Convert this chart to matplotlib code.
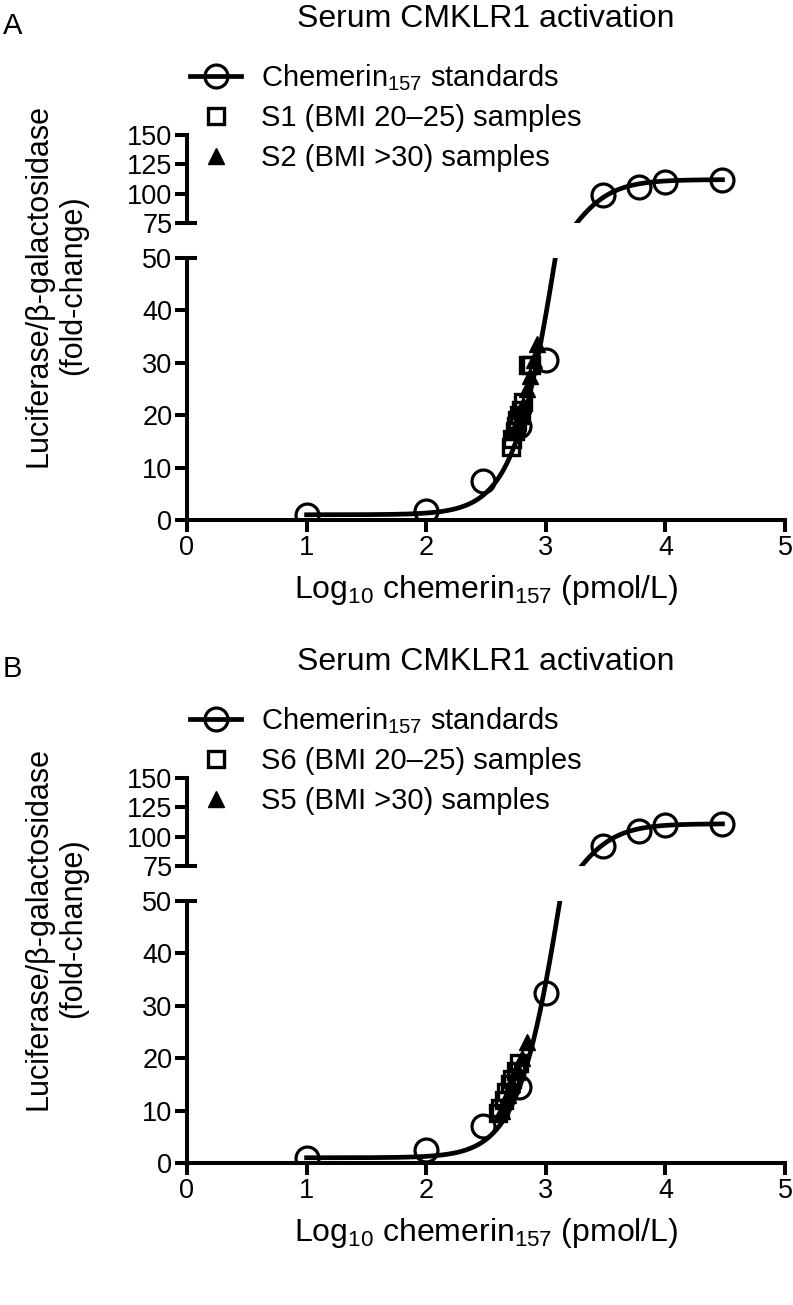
import numpy as np
import matplotlib.pyplot as plt
from matplotlib.lines import Line2D

plt.rcParams['font.family'] = ['Liberation Sans', 'DejaVu Sans']
plt.rcParams['mathtext.default'] = 'regular'

# standards: log10 chemerin157 (pmol/L) vs fold-change
std_x = [1.0, 2.0, 2.477, 2.778, 3.0, 3.477, 3.778, 4.0, 4.477]
std_a = [1.0, 1.8, 7.5, 18.0, 30.5, 98.9, 105.5, 110.0, 111.8]
std_b = [1.0, 2.5, 7.0, 14.5, 32.5, 92.0, 105.0, 110.0, 111.0]

# fitted sigmoid (bottom, top, logEC50, hill)
fit_a = (1.0, 112.0, 3.125, 2.25)
fit_b = (1.0, 111.0, 3.16, 2.25)

# panel A samples
s1_x = [2.71, 2.72, 2.74, 2.75, 2.76, 2.78, 2.79, 2.81, 2.85, 2.88]
s1_y = [14.0, 15.5, 17.0, 18.0, 19.0, 20.0, 21.0, 22.5, 29.5, 29.5]
s2_x = [2.75, 2.77, 2.79, 2.81, 2.84, 2.87, 2.90, 2.93]
s2_y = [17.0, 18.5, 20.0, 22.0, 25.0, 27.5, 30.5, 33.5]

# panel B samples
s6_x = [2.60, 2.62, 2.65, 2.67, 2.70, 2.72, 2.75, 2.78]
s6_y = [9.5, 10.5, 12.0, 13.5, 15.0, 16.0, 17.5, 19.0]
s5_x = [2.63, 2.68, 2.72, 2.76, 2.80, 2.84]
s5_y = [10.0, 13.0, 15.0, 18.0, 20.0, 23.0]

W, H = 793, 1305
L, R = 187, 785


def box(l, t, r, b):
    return [l / W, 1 - b / H, (r - l) / W, (b - t) / H]


def panel(off, letter, sx, sy, tx, ty, std_y, fit, lab_sq, lab_tri):
    lw = 2.9
    ax_lo = fig.add_axes(box(L, 258 + off, R, 520 + off))
    ax_hi = fig.add_axes(box(L, 135 + off, R, 223 + off), sharex=ax_lo)

    bot, top, c, h = fit
    xf = np.linspace(std_x[0], std_x[-1], 400)
    yf = bot + (top - bot) / (1 + 10 ** ((c - xf) * h))

    for ax in (ax_lo, ax_hi):
        ax.plot(xf, yf, color='black', lw=3.4, zorder=2)
        ax.plot(std_x, std_y, 'o', ms=16.5, mfc='none', mec='black', mew=2.3, zorder=3)
        ax.plot(sx, sy, 's', ms=12, mfc='none', mec='black', mew=2.4, zorder=4)
        ax.plot(tx, ty, '^', ms=11, color='black', zorder=4)
        for sp in ('top', 'right'):
            ax.spines[sp].set_visible(False)
        ax.spines['left'].set_linewidth(lw)
        ax.spines['bottom'].set_linewidth(lw)
        ax.tick_params(width=lw, length=8.6, labelsize=19.5, direction='out', pad=2)

    ax_lo.set_xlim(0, 5)
    ax_lo.set_ylim(0, 50)
    ax_lo.set_xticks([0, 1, 2, 3, 4, 5])
    ax_lo.set_yticks([0, 10, 20, 30, 40, 50])
    ax_hi.set_ylim(75, 150)
    ax_hi.set_yticks([75, 100, 125, 150])
    ax_hi.spines['bottom'].set_visible(False)
    ax_hi.tick_params(axis='x', bottom=False, labelbottom=False)

    # break caps on the y axis
    cap = 10 / (R - L)
    ax_hi.plot([0, cap], [0, 0], transform=ax_hi.transAxes, color='black',
               lw=lw, clip_on=False, solid_capstyle='butt')
    ax_lo.plot([0, cap], [1, 1], transform=ax_lo.transAxes, color='black',
               lw=lw, clip_on=False, solid_capstyle='butt')

    fig.text((L + R) / 2 / W, 1 - (590 + off) / H, 'Log$_{10}$ chemerin$_{157}$ (pmol/L)',
             fontsize=23, ha='center', va='center')
    fig.text(3 / W, 1 - (26 + off) / H, letter, fontsize=21, ha='left', va='center')
    fig.text(486 / W, 1 - (19 + off) / H, 'Serum CMKLR1 activation',
             fontsize=23, ha='center', va='center')
    fig.text(56 / W, 1 - (285 + off) / H, 'Luciferase/\u03b2-galactosidase\n(fold-change)',
             fontsize=22, ha='center', va='center', rotation=90, linespacing=1.2)

    handles = [
        Line2D([], [], color='black', lw=3.4, marker='o', ms=16.5, mfc='none', mew=2.3),
        Line2D([], [], ls='none', marker='s', ms=12, mfc='none', mec='black', mew=2.4),
        Line2D([], [], ls='none', marker='^', ms=11, color='black'),
    ]
    labels = ['Chemerin$_{157}$ standards', lab_sq, lab_tri]
    fig.legend(handles, labels, loc='upper left',
               bbox_to_anchor=(190 / W, 1 - (62 + off) / H),
               frameon=False, fontsize=21, handlelength=1.75, handletextpad=0.7,
               labelspacing=0.4, borderaxespad=0, borderpad=0)


fig = plt.figure(figsize=(W / 100, H / 100), dpi=100)
panel(0, 'A', s1_x, s1_y, s2_x, s2_y, std_a, fit_a,
      'S1 (BMI 20\u201325) samples', 'S2 (BMI >30) samples')
panel(643, 'B', s6_x, s6_y, s5_x, s5_y, std_b, fit_b,
      'S6 (BMI 20\u201325) samples', 'S5 (BMI >30) samples')

fig.savefig('out.png', dpi=100, facecolor='white')
